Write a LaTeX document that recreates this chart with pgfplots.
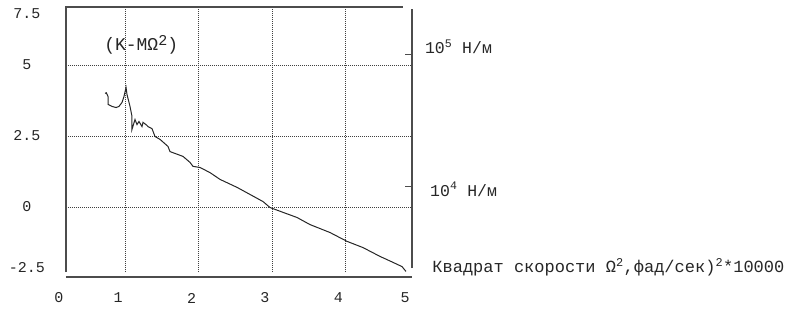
\documentclass[border=0pt]{standalone}
\usepackage{pgfplots}
\pgfplotsset{compat=1.18}
\usepackage{fontspec}
\setmainfont{Liberation Mono}
\begin{document}
\fontsize{15}{18}\selectfont
\begin{tikzpicture}
\begin{axis}[
  scale only axis, width=346pt, height=265pt,
  xmin=0.197, xmax=4.905, ymin=-2.29, ymax=7.04,
  axis line style={draw=none},
  xtick={1,2,3,4}, ytick={0,2.5,5},
  xticklabels={1,2,3,4}, yticklabels={0,2.5,5},
  extra x ticks={0.197,4.905}, extra x tick labels={0,5},
  extra y ticks={-2.13,6.81}, extra y tick labels={-2.5,7.5},
  extra x tick style={grid=none}, extra y tick style={grid=none},
  major tick length=0pt,
  grid=major,
  major grid style={black!75, line width=0.6pt, dash pattern=on 0.7pt off 1.3pt},
  xticklabel style={anchor=center, yshift=-26pt, xshift=-7pt},
  yticklabel style={anchor=center, xshift=-39pt},
  /pgf/number format/assume math mode=true,
  tick label style={font=\fontsize{15}{18}\selectfont, text=black!85},
  clip=false,
]
\addplot[black!85, line width=1pt] coordinates {
(0.728,4.00) (0.745,4.02) (0.769,3.89) (0.769,3.61) (0.823,3.54) (0.878,3.50)
(0.918,3.54) (0.959,3.68) (0.986,3.89) (1.014,4.21) (1.027,3.96) (1.068,3.54)
(1.095,3.19) (1.095,2.73) (1.136,3.08) (1.163,2.90) (1.190,3.01) (1.231,2.83)
(1.245,2.98) (1.299,2.87) (1.313,2.83) (1.367,2.76) (1.408,2.48) (1.476,2.38)
(1.585,2.13) (1.612,1.95) (1.789,1.78) (1.884,1.57) (1.925,1.43) (2.020,1.39)
(2.156,1.21) (2.293,0.97) (2.524,0.69) (2.701,0.44) (2.878,0.19) (2.973,-0.02)
(3.150,-0.19) (3.340,-0.37) (3.517,-0.62) (3.789,-0.90) (4.020,-1.21)
(4.238,-1.43) (4.469,-1.74) (4.646,-1.95) (4.769,-2.10) (4.823,-2.27)
};
\node[text=black!85, font=\fontsize{18}{20}\selectfont] at (axis cs:1.22,5.72) {(K-MΩ\raisebox{0.55ex}{\fontsize{15}{15}\selectfont 2})};
\draw[black!70, line width=1.1pt] (rel axis cs:0,0) -- (rel axis cs:0,1) -- ([xshift=-9pt]rel axis cs:1,1);
\draw[black!70, line width=1.1pt] ([yshift=4pt]rel axis cs:1,0) -- ([yshift=-2pt]rel axis cs:1,1);
\draw[black!70, line width=1.1pt] ([yshift=-5pt]rel axis cs:0,0) -- ([yshift=-5pt]rel axis cs:1,0);
\draw[black!70, line width=1.1pt] ([xshift=-7pt]axis cs:4.905,5.37) -- (axis cs:4.905,5.37);
\draw[black!70, line width=1.1pt] ([xshift=-7pt]axis cs:4.905,0.72) -- (axis cs:4.905,0.72);
\node[anchor=west, inner sep=0pt, text=black!85, font=\fontsize{16.5}{18}\selectfont] at (axis cs:5.08,5.65) {10\textsuperscript{5} Н/м};
\node[anchor=west, inner sep=0pt, text=black!85, font=\fontsize{16.5}{18}\selectfont] at (axis cs:5.15,0.62) {10\textsuperscript{4} Н/м};
\node[anchor=west, inner sep=0pt, text=black!85, font=\fontsize{17}{18}\selectfont] at (axis cs:5.18,-2.13) {Квадрат скорости Ω\textsuperscript{2},фад/сек)\textsuperscript{2}*10000};
\coordinate (O) at (rel axis cs:0,0);
\coordinate (T) at (rel axis cs:1,1);
\end{axis}
\pgfresetboundingbox
\path[use as bounding box] ([shift={(-66pt,-39pt)}]O) rectangle ([shift={(378pt,7pt)}]T);
\end{tikzpicture}
\end{document}
